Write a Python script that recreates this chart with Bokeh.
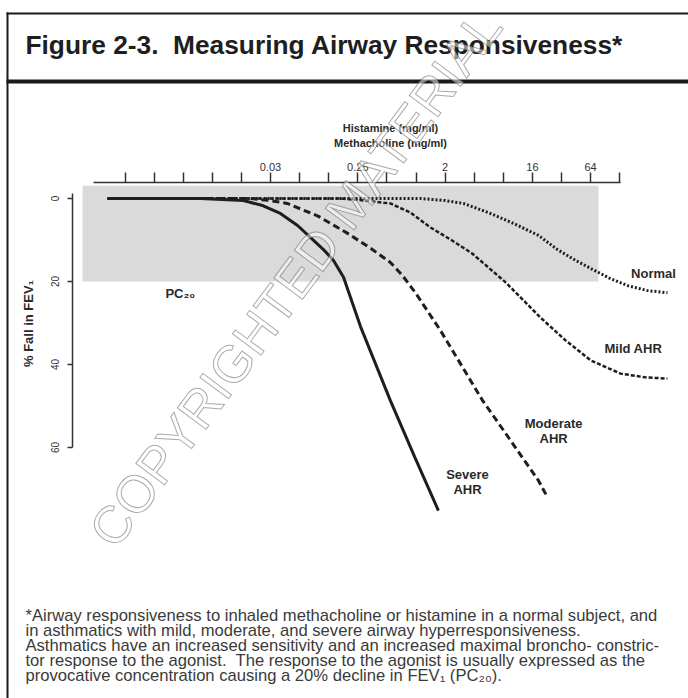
from bokeh.plotting import figure
from bokeh.models import Range1d, FixedTicker, Label, BoxAnnotation
from bokeh.embed import file_html
from bokeh.resources import INLINE

# ---------------- data ----------------
# x: doubling-dose scale (log2 of concentration, mg/ml); y: % fall in FEV1
normal_x = [-10.6, 0.15, 1.01, 1.63, 2.49, 3.35, 4.21, 4.86, 5.48, 6.07, 6.68, 7.27, 7.96, 8.64]
normal_y = [0, 0, 0.5, 1.2, 3.4, 6.0, 8.9, 12.3, 14.9, 17.1, 19.3, 21.0, 22.2, 22.7]

mild_x = [-10.6, -2.59, -1.74, -0.88, -0.19, 0.50, 1.19, 1.94, 3.08, 4.28, 5.14, 6.0, 7.03, 7.89, 8.64]
mild_y = [0, 0, 0.5, 1.2, 3.4, 7.0, 9.9, 13.3, 20.2, 28.7, 34.2, 39.0, 42.2, 43.1, 43.4]

moderate_x = [-10.6, -5.69, -5.0, -4.42, -3.35, -2.35, -1.56, -0.88, -0.46, -0.02, 0.84, 2.29, 3.25, 4.21, 4.52]
moderate_y = [0, 0, 0.5, 1.2, 4.3, 8.4, 12.0, 15.4, 18.6, 22.7, 31.8, 48.7, 58.3, 68.0, 72.0]

severe_x = [-10.6, -7.41, -5.93, -5.27, -4.66, -4.07, -3.52, -3.18, -2.84, -2.49, -1.91, -0.88, -0.05, 0.77]
severe_y = [0, 0, 0.5, 1.7, 3.6, 6.5, 10.1, 12.3, 14.9, 19.0, 30.8, 48.7, 62.2, 75.2]

pc20_level = 20
shade_x = [-11.46, 6.27]
shade_top = -3.1

x_ticks = list(range(-10, 8))
x_tick_labels = {-5: "0.03", -2: "0.25", 1: "2", 4: "16", 6: "64"}
y_ticks = [0, 20, 40, 60]

title_text = "Figure 2-3.\u00a0 Measuring Airway Responsiveness*"
footnote_lines = [
    "*Airway responsiveness to inhaled methacholine or histamine in a normal subject, and",
    "in asthmatics with mild, moderate, and severe airway hyperresponsiveness.",
    "Asthmatics have an increased sensitivity and an increased maximal broncho- constric-",
    "tor response to the agonist.\u00a0 The response to the agonist is usually expressed as the",
    "provocative concentration causing a 20% decline in FEV\u2081 (PC\u2082\u2080).",
]

FONT = "Liberation Sans"
INK = "#1e1e1e"

# ---------------- geometry ----------------
W, H = 688, 698
PX_PER_DOUBLING = 29.1        # horizontal pixels per doubling dose
PX_PER_PCT = 4.15             # vertical pixels per % fall
X_AT_270 = -5                 # doubling step located at page x = 270
Y0_PAGE = 198                 # page y of 0 % fall


def px_x(px):
    return X_AT_270 + (px - 270) / PX_PER_DOUBLING


def px_y(py):
    return (py - Y0_PAGE) / PX_PER_PCT


# the frame covers the whole canvas; axes are pinned inside it
p = figure(width=W, height=H,
           x_range=Range1d(px_x(0), px_x(W)), y_range=Range1d(px_y(H), px_y(0)),
           x_axis_location="above",
           output_backend="svg", toolbar_location=None,
           min_border=0, min_border_left=0, min_border_right=0,
           min_border_top=0, min_border_bottom=0)
p.title.visible = False
p.outline_line_color = None
p.xgrid.visible = False
p.ygrid.visible = False
p.background_fill_color = "white"
p.border_fill_color = "white"

# shaded band (responses below the PC20 threshold)
p.quad(left=shade_x[0], right=shade_x[1], top=shade_top, bottom=pc20_level,
       fill_color="#dadada", line_color=None)

# curves
p.line(normal_x, normal_y, line_color=INK, line_width=3, line_dash="2 2")
p.line(mild_x, mild_y, line_color=INK, line_width=2.5, line_dash="4 2")
p.line(moderate_x, moderate_y, line_color=INK, line_width=3, line_dash="7 4")
p.line(severe_x, severe_y, line_color=INK, line_width=3)

# axes
xa = p.xaxis[0]
xa.fixed_location = px_y(182)
xa.ticker = FixedTicker(ticks=x_ticks, minor_ticks=[])
xa.major_label_overrides = {t: x_tick_labels.get(t, "") for t in x_ticks}
xa.bounds = (-11.08, 7.02)
xa.major_tick_out = 10
xa.major_tick_in = 0
xa.minor_tick_line_color = None
xa.axis_line_color = "#333333"
xa.axis_line_width = 1.5
xa.major_tick_line_color = "#333333"
xa.major_tick_line_width = 1.5
xa.major_label_text_font = FONT
xa.major_label_text_font_size = "11px"
xa.major_label_text_color = "#333333"
xa.major_label_standoff = 2

ya = p.yaxis[0]
ya.fixed_location = px_x(72)
ya.ticker = FixedTicker(ticks=y_ticks, minor_ticks=[])
ya.bounds = (-1.2, 60)
ya.major_tick_out = 5
ya.major_tick_in = 0
ya.minor_tick_line_color = None
ya.axis_line_color = "#333333"
ya.axis_line_width = 1.5
ya.major_tick_line_color = "#333333"
ya.major_tick_line_width = 1.5
ya.major_label_orientation = "vertical"
ya.major_label_text_font = FONT
ya.major_label_text_font_size = "10px"
ya.major_label_text_color = "#333333"
ya.major_label_standoff = 9


def page_label(x, y, text, size, style="normal", align="left", angle=0, color=INK):
    p.add_layout(Label(x=px_x(x), y=px_y(y), text=text,
                       text_font=FONT, text_font_size=size, text_font_style=style,
                       text_align=align, text_baseline="middle", text_color=color,
                       angle=angle, angle_units="deg"))


def data_label(x, y, text, size="13px", style="bold", align="center"):
    p.add_layout(Label(x=x, y=y, text=text, text_font=FONT, text_font_size=size,
                       text_font_style=style, text_align=align, text_baseline="middle",
                       text_color="#2a2a2a"))


# lines of the figure box
for l, r, t, b in [(6, 700, 12, 14), (6, 8, 12, 710), (6, 700, 79, 83)]:
    p.add_layout(BoxAnnotation(left=px_x(l), right=px_x(r), top=px_y(t), bottom=px_y(b),
                               fill_color="#1a1a1a", fill_alpha=1, line_color=None))

# title
page_label(25, 44, title_text, "26.3px", "bold")

# axis titles
page_label(390, 127, "Histamine (mg/ml)", "11px", "bold", "center", color="#2a2a2a")
page_label(390, 142, "Methacholine (mg/ml)", "11px", "bold", "center", color="#2a2a2a")
page_label(28, 323, "% Fall in FEV\u2081", "13px", "bold", "center", angle=90, color="#2a2a2a")

# curve labels (data coordinates)
data_label(-8.61, 22.9, "PC\u2082\u2080", align="left")
data_label(8.16, 18.1, "Normal")
data_label(7.47, 36.1, "Mild AHR")
data_label(4.73, 54.2, "Moderate")
data_label(4.73, 57.8, "AHR")
data_label(1.77, 66.6, "Severe")
data_label(1.77, 70.0, "AHR")

# footnote
for i, line in enumerate(footnote_lines):
    page_label(25, 615 + 15 * i, line, "16.6px", "normal", color="#3a3a3a")

# watermark
p.add_layout(Label(x=px_x(295), y=px_y(278),
                   text="COPYRIGHTED MATERIAL", text_font=FONT, text_font_size="52px",
                   text_align="center", text_baseline="middle", text_color="white",
                   text_alpha=0.5, text_outline_color="#555555",
                   angle=53.4, angle_units="deg"))

open("out.html", "w").write(file_html(p, INLINE))
